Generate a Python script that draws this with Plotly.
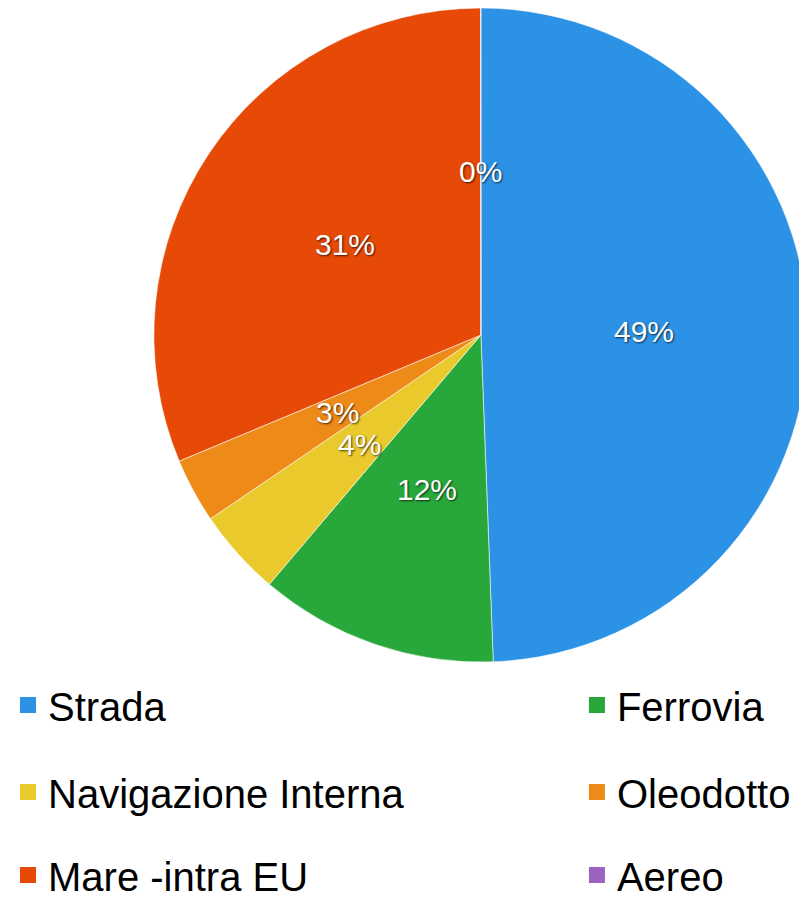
import math
import plotly.graph_objects as go

# Quota modale (%)
categorie = ["Strada", "Ferrovia", "Navigazione Interna", "Oleodotto", "Mare -intra EU", "Aereo"]
valori = [49.4, 11.8, 4.3, 3.2, 31.28, 0.02]
colori = ["#2C92E6", "#28A83A", "#E9C92C", "#EE8A18", "#E64A06", "#9B62C0"]

W, H = 807, 899
dom_x = [0.177, 0.995]
dom_y = [0.2725, 1.0]

fig = go.Figure()

fig.add_trace(
    go.Pie(
        labels=categorie,
        values=valori,
        sort=False,
        direction="clockwise",
        rotation=0,
        textinfo="none",
        hoverinfo="label+percent",
        marker=dict(colors=colori, line=dict(color="rgba(255,255,255,0.55)", width=1)),
        domain=dict(x=dom_x, y=dom_y),
        showlegend=False,
    )
)

# Etichette percentuali a metà raggio, calcolate dai valori
cx = (dom_x[0] + dom_x[1]) / 2 * W
cy = (dom_y[0] + dom_y[1]) / 2 * H
r = min((dom_x[1] - dom_x[0]) * W, (dom_y[1] - dom_y[0]) * H) / 2
totale = sum(valori)
cum = 0
for v in valori:
    mid = (cum + v / 2) / totale * 2 * math.pi
    cum += v
    px_x = cx + 0.5 * r * math.sin(mid)
    px_y = cy + 0.5 * r * math.cos(mid)
    fig.add_annotation(
        x=px_x / W,
        y=px_y / H,
        xref="paper",
        yref="paper",
        xanchor="center",
        yanchor="middle",
        text=f"{round(v / totale * 100)}%",
        showarrow=False,
        font=dict(family="Liberation Sans, Arial", size=30, color="white",
                  shadow="1px 1px 2px rgba(0,0,0,0.7)"),
    )

# Legenda: tre righe, due colonne (una legenda per voce)
pos_righe = [0.2247, 0.1279, 0.0355]
pos_colonne = [0.0, 0.705]
leg_style = dict(
    xref="container",
    yref="container",
    xanchor="left",
    yanchor="middle",
    font=dict(family="Liberation Sans, Arial", size=40, color="black"),
    bgcolor="rgba(0,0,0,0)",
    itemclick=False,
    itemdoubleclick=False,
)
legende = {}
for i, (nome, col) in enumerate(zip(categorie, colori)):
    key = "legend" if i == 0 else f"legend{i + 1}"
    fig.add_trace(
        go.Scatter(
            x=[None],
            y=[None],
            mode="markers",
            marker=dict(symbol="square", size=16, color=col),
            name=nome,
            legend=key,
            hoverinfo="skip",
        )
    )
    legende[key] = dict(x=pos_colonne[i % 2], y=pos_righe[i // 2], **leg_style)

fig.update_layout(
    width=W,
    height=H,
    margin=dict(l=0, r=0, t=0, b=0, autoexpand=False),
    paper_bgcolor="white",
    plot_bgcolor="white",
    xaxis=dict(visible=False),
    yaxis=dict(visible=False),
    **legende,
)

fig.write_html("out.html")
